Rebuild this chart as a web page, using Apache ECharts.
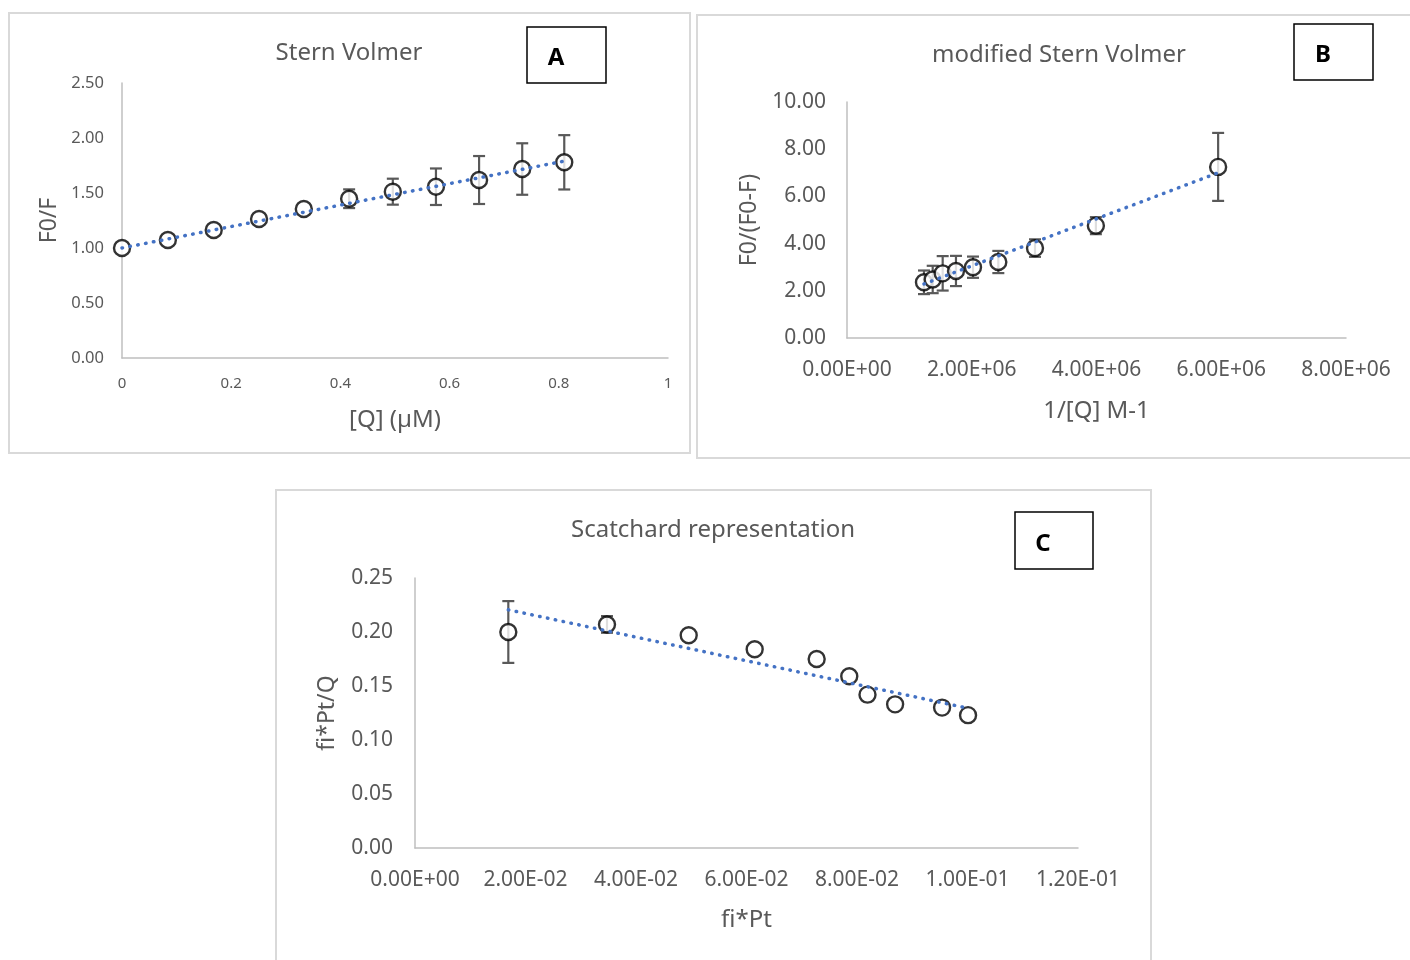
<!DOCTYPE html>
<html>
<head>
<meta charset="utf-8">
<script src="https://cdn.jsdelivr.net/npm/echarts@6/dist/echarts.min.js"></script>
<style>
html,body{margin:0;padding:0;background:#fff;}
#chart{width:1410px;height:960px;}
</style>
</head>
<body>
<div id="chart"></div>
<script>
// ---------- Panel A: Stern Volmer ----------
const aQ    = [0, 0.084, 0.168, 0.251, 0.333, 0.416, 0.496, 0.575, 0.654, 0.733, 0.81];
const aF0F  = [1.00, 1.073, 1.164, 1.264, 1.355, 1.448, 1.512, 1.557, 1.618, 1.718, 1.779];
const aErr  = [0, 0, 0, 0, 0, 0.085, 0.118, 0.166, 0.218, 0.234, 0.247];
const aTrendX = [0, 0.81];
const aTrendY = [1.00, 1.79];
const aXTicks = ['0', '0.2', '0.4', '0.6', '0.8', '1'];

// ---------- Panel B: modified Stern Volmer ----------
const bInvQ  = [1.234e6, 1.374e6, 1.534e6, 1.747e6, 2.02e6, 2.426e6, 3.014e6, 3.99e6, 5.95e6];
const bRatio = [2.36, 2.48, 2.74, 2.84, 3.00, 3.22, 3.81, 4.76, 7.25];
const bErr   = [0.50, 0.58, 0.73, 0.64, 0.45, 0.47, 0.37, 0.36, 1.44];
const bTrendX = [1.234e6, 5.95e6];
const bTrendY = [2.29, 7.00];

// ---------- Panel C: Scatchard representation ----------
const cFiPt  = [0.01689, 0.03475, 0.04954, 0.06148, 0.0727, 0.0786, 0.0819, 0.0869, 0.0954, 0.1001];
const cRatio = [0.200, 0.207, 0.197, 0.184, 0.175, 0.159, 0.142, 0.133, 0.130, 0.123];
const cErr   = [0.0286, 0.0077, 0, 0, 0, 0, 0, 0, 0, 0];
const cTrendX = [0.01689, 0.1001];
const cTrendY = [0.2206, 0.1294];

const FONT = '"Noto Sans", "Open Sans", sans-serif';
const GREY = '#595959';
const AXIS = '#bfbfbf';

function sci(v) {
  if (Math.abs(v) < 1e-15) return '0.00E+00';
  let e = Math.floor(Math.log10(Math.abs(v)) + 1e-9);
  let m = v / Math.pow(10, e);
  let ms = m.toFixed(2);
  if (ms === '10.00') { e += 1; ms = (v / Math.pow(10, e)).toFixed(2); }
  const sign = e < 0 ? '-' : '+';
  const ae = Math.abs(e);
  return ms + 'E' + sign + (ae < 10 ? '0' + ae : '' + ae);
}

function zip(xs, ys) { return xs.map((x, i) => [x, ys[i]]); }
function zip3(xs, ys, es) { return xs.map((x, i) => [x, ys[i], es[i]]); }

function errRender(params, api) {
  const x = api.value(0), y = api.value(1), e = api.value(2);
  if (!e) return null;
  const top = api.coord([x, y + e]);
  const bot = api.coord([x, y - e]);
  const hw = 6;
  const st = { stroke: GREY, lineWidth: 2.2 };
  return {
    type: 'group',
    children: [
      { type: 'line', shape: { x1: top[0], y1: top[1], x2: bot[0], y2: bot[1] }, style: st },
      { type: 'line', shape: { x1: top[0] - hw, y1: top[1], x2: top[0] + hw, y2: top[1] }, style: st },
      { type: 'line', shape: { x1: bot[0] - hw, y1: bot[1], x2: bot[0] + hw, y2: bot[1] }, style: st }
    ]
  };
}

function xAxisDef(idx, min, max, interval, fmt, name, fontSize, margin, nameGap, nameSize) {
  return {
    gridIndex: idx, type: 'value', min: min, max: max, interval: interval,
    name: name, nameLocation: 'middle', nameGap: nameGap,
    nameTextStyle: { color: GREY, fontSize: nameSize, fontFamily: FONT },
    axisLine: { show: true, onZero: false, lineStyle: { color: AXIS, width: 1.5 } },
    axisTick: { show: false }, splitLine: { show: false },
    axisLabel: { color: GREY, fontSize: fontSize, fontFamily: FONT, margin: margin, formatter: fmt, showMaxLabel: true, showMinLabel: true }
  };
}
function yAxisDef(idx, min, max, interval, fmt, name, fontSize, margin, nameGap, nameSize) {
  return {
    gridIndex: idx, type: 'value', min: min, max: max, interval: interval,
    name: name, nameLocation: 'middle', nameGap: nameGap,
    nameTextStyle: { color: GREY, fontSize: nameSize, fontFamily: FONT },
    axisLine: { show: true, lineStyle: { color: AXIS, width: 1.5 } },
    axisTick: { show: false }, splitLine: { show: false },
    axisLabel: { color: GREY, fontSize: fontSize, fontFamily: FONT, margin: margin, formatter: fmt }
  };
}

function seriesSet(idx, xs, ys, es, tx, ty) {
  return [
    { type: 'custom', xAxisIndex: idx, yAxisIndex: idx, z: 1, renderItem: errRender,
      data: zip3(xs, ys, es), silent: true },
    { type: 'scatter', xAxisIndex: idx, yAxisIndex: idx, z: 2, symbol: 'circle', symbolSize: 16,
      itemStyle: { color: '#ffffff', borderColor: '#000000', borderWidth: 2.4 },
      data: zip(xs, ys), silent: true },
    { type: 'line', xAxisIndex: idx, yAxisIndex: idx, z: 3, showSymbol: false, symbol: 'none',
      lineStyle: { color: '#4472C4', width: 3.5, type: [0.5, 7.5], cap: 'round' },
      data: zip(tx, ty), silent: true }
  ];
}

const aXfmt = function (v) { const i = Math.round(v / 0.2); return aXTicks[i] !== undefined ? aXTicks[i] : String(v); };
const fix2 = function (v) { return v.toFixed(2); };

const option = {
  backgroundColor: '#ffffff',
  animation: false,
  grid: [
    { left: 122, right: 1410 - 668, top: 83, bottom: 960 - 358 },
    { left: 847, right: 1410 - 1346, top: 102, bottom: 960 - 338 },
    { left: 415, right: 1410 - 1078, top: 578, bottom: 960 - 848 }
  ],
  xAxis: [
    xAxisDef(0, 0, 1, 0.2, aXfmt, '[Q] (µM)', 15, 18, 50, 24),
    xAxisDef(1, 0, 8e6, 2e6, sci, '1/[Q] M-1', 21, 22, 61, 24),
    xAxisDef(2, 0, 0.12, 0.02, sci, 'fi*Pt', 21, 22, 60, 24)
  ],
  yAxis: [
    yAxisDef(0, 0, 2.5, 0.5, fix2, 'F0/F', 16.5, 18, 61, 23),
    yAxisDef(1, 0, 10, 2, fix2, 'F0/(F0-F)', 21, 21, 86, 23),
    yAxisDef(2, 0, 0.25, 0.05, fix2, 'fi*Pt/Q', 21, 22, 76, 23)
  ],
  series: [].concat(
    seriesSet(0, aQ, aF0F, aErr, aTrendX, aTrendY),
    seriesSet(1, bInvQ, bRatio, bErr, bTrendX, bTrendY),
    seriesSet(2, cFiPt, cRatio, cErr, cTrendX, cTrendY)
  ),
  graphic: [
    // panel borders
    { type: 'rect', shape: { x: 9, y: 13, width: 681, height: 440 }, style: { fill: 'none', stroke: '#d9d9d9', lineWidth: 2 }, z: -1 },
    { type: 'rect', shape: { x: 697, y: 15, width: 720, height: 443 }, style: { fill: 'none', stroke: '#d9d9d9', lineWidth: 2 }, z: -1 },
    { type: 'rect', shape: { x: 276, y: 490, width: 875, height: 480 }, style: { fill: 'none', stroke: '#d9d9d9', lineWidth: 2 }, z: -1 },
    // titles
    { type: 'text', x: 349, y: 53, style: { text: 'Stern Volmer', fill: GREY, font: '24px ' + FONT, align: 'center', verticalAlign: 'middle' } },
    { type: 'text', x: 1059, y: 55, style: { text: 'modified Stern Volmer', fill: GREY, font: '24px ' + FONT, align: 'center', verticalAlign: 'middle' } },
    { type: 'text', x: 713, y: 530, style: { text: 'Scatchard representation', fill: GREY, font: '24px ' + FONT, align: 'center', verticalAlign: 'middle' } },
    // label boxes
    { type: 'rect', shape: { x: 527, y: 27, width: 79, height: 56 }, style: { fill: '#fff', stroke: '#000', lineWidth: 1.5 } },
    { type: 'text', x: 556, y: 58, style: { text: 'A', fill: '#000', font: 'bold 24px ' + FONT, align: 'center', verticalAlign: 'middle' } },
    { type: 'rect', shape: { x: 1294, y: 24, width: 79, height: 56 }, style: { fill: '#fff', stroke: '#000', lineWidth: 1.5 } },
    { type: 'text', x: 1323, y: 55, style: { text: 'B', fill: '#000', font: 'bold 24px ' + FONT, align: 'center', verticalAlign: 'middle' } },
    { type: 'rect', shape: { x: 1015, y: 512, width: 78, height: 57 }, style: { fill: '#fff', stroke: '#000', lineWidth: 1.5 } },
    { type: 'text', x: 1043, y: 544, style: { text: 'C', fill: '#000', font: 'bold 24px ' + FONT, align: 'center', verticalAlign: 'middle' } }
  ]
};

const chart = echarts.init(document.getElementById('chart'), null, { renderer: 'canvas' });
chart.setOption(option);
</script>
</body>
</html>
